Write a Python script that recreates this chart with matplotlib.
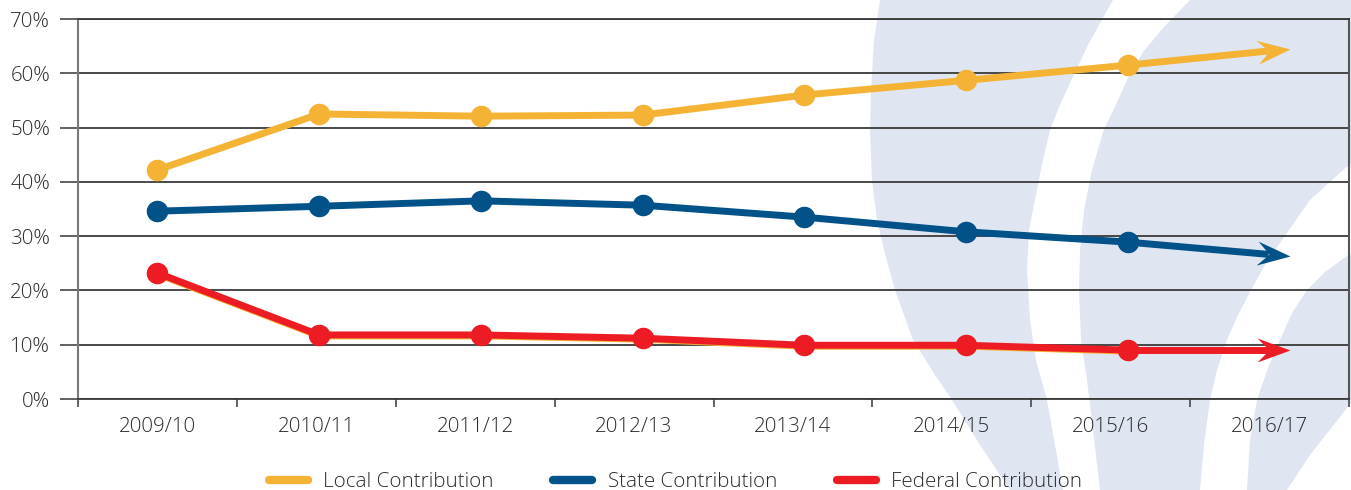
import numpy as np
import matplotlib
matplotlib.use('Agg')
import matplotlib.pyplot as plt
from matplotlib.patches import Polygon
from matplotlib.lines import Line2D
from matplotlib.markers import MarkerStyle
from matplotlib.path import Path
from matplotlib.transforms import Affine2D
import matplotlib.patheffects as pe

plt.rcParams['font.family'] = ['Open Sans', 'DejaVu Sans']

# ---------------- data ----------------
years = ['2009/10', '2010/11', '2011/12', '2012/13', '2013/14', '2014/15', '2015/16', '2016/17']
local = [42.2, 52.5, 52.1, 52.3, 56.0, 58.7, 61.5, 64.5]
state = [34.6, 35.5, 36.5, 35.7, 33.5, 30.8, 28.9, 26.3]
federal = [23.2, 11.8, 11.8, 11.2, 9.9, 9.9, 9.0, 9.0]
series_names = ['Local Contribution', 'State Contribution', 'Federal Contribution']
yticks = [0, 10, 20, 30, 40, 50, 60, 70]
ytick_labels = [f'{v}%' for v in yticks]

colors = ['#f5b335', '#005288', '#ed1c24']
band_color = '#dfe6f1'
text_color = '#2b2b2b'
fs = 14.8

W, H = 1351, 490
fig = plt.figure(figsize=(W / 100, H / 100), dpi=100)

# ---------------- decorative background bands ----------------
def fig_poly(pts):
    return [(px / W, 1 - py / H) for px, py in pts]

bandA = [(880, 0), (874, 40), (871, 90), (870, 130), (872, 180), (877, 220), (884, 250), (895, 290),
         (913, 340), (935, 375), (952, 400), (980, 445), (1010, 490),
         (1063, 490), (1055, 445), (1047, 400), (1036, 360), (1030, 320), (1027, 270), (1029, 230),
         (1035, 200), (1042, 165), (1050, 130), (1060, 105), (1070, 83), (1088, 45), (1113, 0)]
bandB = [(1190, 0), (1163, 28), (1143, 52), (1128, 78), (1118, 100), (1103, 132), (1092, 170),
         (1084, 210), (1080, 250), (1079, 290), (1081, 340), (1087, 380), (1093, 430), (1100, 490),
         (1200, 490), (1204, 445), (1210, 400), (1217, 370), (1227, 340), (1238, 315), (1250, 292),
         (1265, 265), (1280, 243), (1310, 200), (1351, 163), (1351, 0)]
bandC = [(1351, 253), (1325, 272), (1307, 290), (1292, 313), (1280, 340), (1268, 368), (1257, 400),
         (1250, 440), (1247, 490), (1287, 490), (1310, 455), (1351, 403)]
for b in (bandA, bandB, bandC):
    fig.add_artist(Polygon(fig_poly(b), closed=True, facecolor=band_color, edgecolor='none',
                           transform=fig.transFigure, zorder=-5))

# ---------------- axes ----------------
ax = fig.add_axes([78 / W, 1 - 399 / H, (1349 - 78) / W, (399 - 19) / H])
ax.set_facecolor('none')
ax.set_xlim(-0.5, 7.5)
ax.set_ylim(0, 70)

ax.set_yticks(yticks)
ax.set_yticklabels(ytick_labels, fontweight='light')
ax.yaxis.grid(True, color='#3a3a3a', lw=1.3, zorder=1)
ax.set_axisbelow(True)
ax.tick_params(axis='y', length=13, width=1.3, color='#555555', labelsize=fs,
               labelcolor=text_color, pad=7)

ax.set_xticks(np.arange(-0.5, 8, 1))
ax.set_xticklabels([])
ax.set_xticks(np.arange(len(years)), minor=True)
ax.set_xticklabels(years, minor=True, fontweight='light')
ax.tick_params(axis='x', which='major', length=6, width=1.3, color='#555555')
ax.tick_params(axis='x', which='minor', length=0, labelsize=fs, labelcolor=text_color, pad=13)

for s in ('top', 'bottom'):
    ax.spines[s].set_color('#3a3a3a')
    ax.spines[s].set_linewidth(1.3)
ax.spines['left'].set_color('#7a7a7a')
ax.spines['left'].set_linewidth(1.5)
ax.spines['right'].set_color('#555555')
ax.spines['right'].set_linewidth(1.5)

# ---------------- series ----------------
x = np.arange(len(years)) * 1.018
lw = 5
ms = 14.5
head_len_px, head_half_px, notch_px = 33, 12, 21
head_path = Path([(0, 0), (-head_len_px, head_half_px), (-notch_px, 0), (-head_len_px, -head_half_px), (0, 0)],
                 [Path.MOVETO, Path.LINETO, Path.LINETO, Path.LINETO, Path.CLOSEPOLY])
head_ms = 2 * head_len_px * 0.72  # points

for vals, col, name in zip([local, state, federal], colors, series_names):
    effects = None
    if name.startswith('Federal'):
        effects = [pe.SimpleLineShadow(offset=(0, -0.7), shadow_color=colors[0], alpha=1, rho=1), pe.Normal()]
    ax.plot(x[:7], vals[:7], color=col, lw=lw, solid_capstyle='round', solid_joinstyle='round',
            zorder=3, path_effects=effects)
    ax.plot(x[:7], vals[:7], ls='none', marker='o', ms=ms, color=col, zorder=4)
    # arrow segment to last value
    p6 = ax.transData.transform((x[6], vals[6]))
    p7 = ax.transData.transform((x[7], vals[7]))
    d = p7 - p6
    ang = np.degrees(np.arctan2(d[1], d[0]))
    u = d / np.hypot(*d)
    pend = p7 - u * notch_px
    xe, ye = ax.transData.inverted().transform(pend)
    ax.plot([x[6], xe], [vals[6], ye], color=col, lw=lw, solid_capstyle='butt', zorder=3)
    mk = MarkerStyle(head_path, transform=Affine2D().rotate_deg(ang))
    ax.plot([x[7]], [vals[7]], ls='none', marker=mk, ms=head_ms, color=col, mec='none', zorder=4)

# ---------------- legend ----------------
handles = [Line2D([0], [0], color=c, lw=6, solid_capstyle='round') for c in colors]
leg = fig.legend(handles, series_names, loc='center', bbox_to_anchor=(0.5, 1 - 482 / H), ncol=3,
                 frameon=False, prop={'size': fs, 'weight': 'light'}, handlelength=1.9,
                 handletextpad=0.75, columnspacing=2.9, labelcolor=text_color)

fig.savefig('out.png', dpi=100)
